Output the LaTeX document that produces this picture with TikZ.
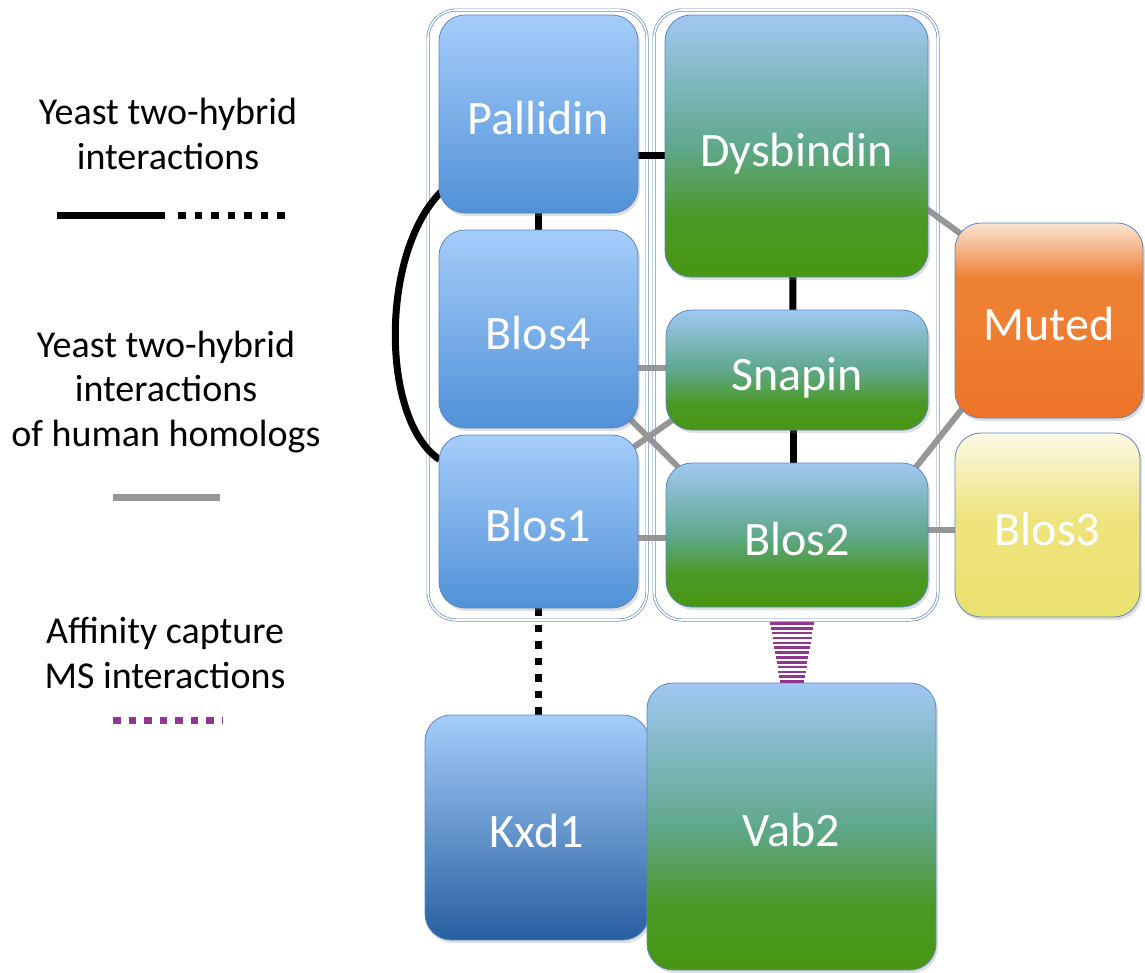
\documentclass[tikz,border=0pt]{standalone}
\usepackage{fontspec}
\setmainfont{Carlito}
\usetikzlibrary{shadows,calc}
\pgfdeclarelayer{bg}\pgfdeclarelayer{edges}
\pgfsetlayers{bg,edges,main}
\definecolor{bluetop}{RGB}{165,205,250}
\definecolor{bluebot}{RGB}{80,145,215}
\definecolor{kxdbot}{RGB}{40,95,160}
\definecolor{greentop}{RGB}{160,200,242}
\definecolor{greenmid}{RGB}{95,168,140}
\definecolor{greenbot}{RGB}{72,150,18}
\definecolor{orangetop}{RGB}{250,228,210}
\definecolor{orangemid}{RGB}{238,128,52}
\definecolor{orangebot}{RGB}{237,115,40}
\definecolor{yellowtop}{RGB}{252,248,228}
\definecolor{yellowmid}{RGB}{238,228,125}
\definecolor{yellowbot}{RGB}{235,225,110}
\definecolor{boxline}{RGB}{95,135,195}
\definecolor{grpline}{RGB}{100,140,200}
\definecolor{edgegray}{RGB}{150,150,150}
\definecolor{mspurple}{RGB}{145,55,145}
\pgfdeclareverticalshading{mutedshade}{100bp}{color(0bp)=(orangebot); color(25bp)=(orangebot); color(52bp)=(orangemid); color(61bp)=(orangemid); color(75bp)=(orangetop); color(100bp)=(orangetop)}
\pgfdeclareverticalshading{blos3shade}{100bp}{color(0bp)=(yellowbot); color(25bp)=(yellowbot); color(52bp)=(yellowmid); color(75bp)=(yellowtop); color(100bp)=(yellowtop)}
\pgfdeclareverticalshading{greenshade}{100bp}{color(0bp)=(greenbot); color(25bp)=(greenbot); color(36bp)=(greenbot!85!greenmid); color(50bp)=(greenmid); color(75bp)=(greentop); color(100bp)=(greentop)}
\begin{document}
\begin{tikzpicture}[x=1pt,y=-1pt,
  prot/.style={draw=boxline, line width=0.8pt, rounded corners=26pt, inner sep=0pt,
    text=white, font=\fontsize{48}{56}\selectfont, text height=40pt, text depth=0pt,
    drop shadow={shadow xshift=2pt, shadow yshift=-3pt, opacity=0.25}},
  blueprot/.style={prot, top color=bluetop, bottom color=bluebot},
  darkblueprot/.style={prot, top color=bluetop, bottom color=kxdbot},
  greenprot/.style={prot, shading=greenshade},
  orangeprot/.style={prot, shading=mutedshade},
  yellowprot/.style={prot, shading=blos3shade},
  grp/.style={draw=grpline, line width=0.7pt, double=white, double distance=1.6pt, rounded corners=28pt, inner sep=0pt},
  y2h/.style={line width=7pt, black},
  y2hdot/.style={line width=7pt, black, dash pattern=on 7.5pt off 9pt},
  hum/.style={line width=6pt, edgegray},
  ms/.style={line width=7pt, mspurple, dash pattern=on 7.5pt off 8pt},
  stripe/.style={line width=2.6pt, mspurple},
  leg/.style={align=center, font=\fontsize{38}{44.5}\selectfont, text=black, inner sep=0pt}
]
\useasboundingbox (0,0) rectangle (1145,972);

% protein nodes
\node[blueprot, minimum width=199pt, minimum height=198pt] (pal) at (538.5,114) {Pallidin};
\node[blueprot, minimum width=199pt, minimum height=198pt] (b4) at (538.5,329) {Blos4};
\node[blueprot, minimum width=199pt, minimum height=173pt] (b1) at (538.5,521.5) {Blos1};
\node[greenprot, minimum width=263pt, minimum height=262pt] (dys) at (796.5,146) {Dysbindin};
\node[greenprot, minimum width=262pt, minimum height=120pt] (snap) at (797,370) {Snapin};
\node[greenprot, minimum width=262pt, minimum height=144pt] (b2) at (797,535) {Blos2};
\node[orangeprot, minimum width=188pt, minimum height=195pt] (mut) at (1049,320.5) {Muted};
\node[yellowprot, minimum width=185pt, minimum height=184pt] (b3) at (1047.5,525) {Blos3};
\node[darkblueprot, minimum width=224pt, minimum height=225pt] (kxd) at (537,827.5) {Kxd1};
\node[greenprot, minimum width=289pt, minimum height=287pt] (vab) at (791.5,826.5) {Vab2};

% background and groups
\begin{pgfonlayer}{bg}
\fill[white] (0,0) rectangle (1145,972);
\node[grp, minimum width=219pt, minimum height=610pt] (gl) at (537.5,315) {};
\node[grp, minimum width=284pt, minimum height=610pt] (gr) at (796,315) {};
\end{pgfonlayer}

% connectors
\begin{pgfonlayer}{edges}
\draw[y2h] ([shift={(0,41)}]pal.center) -- ([shift={(0,9)}]dys.center);
\draw[y2h] (pal) -- (b4);
\draw[y2h] ([shift={(-4,0)}]dys.center) -- ([shift={(-4,0)}]snap.center);
\draw[y2h] ([shift={(-4,0)}]snap.center) -- ([shift={(-4,0)}]b2.center);
\draw[y2h] ([shift={(4,-23)}]pal.south west) .. controls (380,250) and (380,420) .. ([shift={(1,25)}]b1.north west);
\draw[y2hdot] (b1.south) -- (b1.south |- kxd.north);
\draw[hum] ([shift={(0,39)}]b4.center) -- ([shift={(0,-2)}]snap.center);
\draw[hum] ([shift={(0,16)}]b1.center) -- ([shift={(0,2.5)}]b2.center);
\draw[hum] ([shift={(0,-5)}]b2.center) -- ([shift={(0,5)}]b3.center);
\draw[hum] ([shift={(-18,-19)}]b4.south east) -- ([shift={(18,10)}]b2.north west);
\draw[hum] ([shift={(-14,19)}]b1.north east) -- ([shift={(12,-14)}]snap.south west);
\draw[hum] ([shift={(-8,-73)}]dys.south east) -- ([shift={(14,17)}]mut.north west);
\draw[hum] ([shift={(-16,9)}]b2.north east) -- ([shift={(15,-19)}]mut.south west);
\end{pgfonlayer}
\foreach \i [evaluate=\i as \hw using 22-\i*10/12, evaluate=\i as \yy using 16+\i*4.85] in {0,...,12}
  \draw[stripe] ([shift={(-5-\hw,\yy)}]b2.south) -- ([shift={(-5+\hw,\yy)}]b2.south);

% legend
\node[leg] (l1) at (168,134) {Yeast two-hybrid\\interactions};
\node[leg] (l2) at (166,392) {Yeast two-hybrid\\interactions\\of human homologs};
\node[leg] (l3) at (165,653) {Affinity capture\\MS interactions};
\coordinate (a1) at (57,215);
\coordinate (a2) at (165,215);
\coordinate (a3) at (178,215);
\coordinate (a4) at (290,215);
\coordinate (g1) at (113,497);
\coordinate (g2) at (220,497);
\coordinate (p1) at (113,720);
\coordinate (p2) at (222,720);
\draw[y2h] (a1) -- (a2);
\draw[y2hdot] (a3) -- (a4);
\draw[hum, line width=7pt] (g1) -- (g2);
\draw[ms] (p1) -- (p2);
\end{tikzpicture}
\end{document}
